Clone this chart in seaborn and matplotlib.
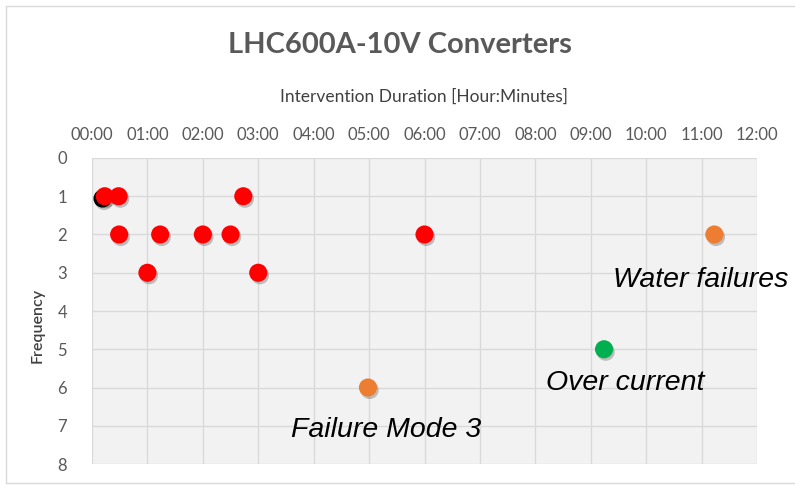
import matplotlib
matplotlib.use("Agg")
import matplotlib.pyplot as plt
import matplotlib.patheffects as pe
from matplotlib.patches import Rectangle
import seaborn as sns
import pandas as pd

# Data (hours, frequency, category)
duration_h = [0.19, 0.23, 0.48, 0.49, 1.23, 2.00, 2.50, 2.73, 1.00, 3.00, 6.00, 4.98, 9.24, 11.23]
frequency = [1.06, 1.0, 1.0, 2, 2, 2, 2, 1, 3, 3, 2, 6, 5, 2]
category = ["black", "red", "red", "red", "red", "red", "red", "red", "red", "red", "red",
            "orange", "green", "orange"]
x_ticks = list(range(0, 13))
x_tick_labels = [f"{h:02d}:00" for h in x_ticks]
y_ticks = list(range(0, 9))
annotations = [("Water failures", 9.40, 3.2), ("Over current", 8.19, 5.88), ("Failure Mode 3", 3.59, 7.12)]

palette = {"black": "#000000", "red": "#ff0000", "orange": "#ed7d31", "green": "#00b050"}

df = pd.DataFrame({"x": duration_h, "y": frequency, "cat": category})

sns.set_theme(style="white")
plt.rcParams["font.family"] = ["Lato", "DejaVu Sans"]

fig = plt.figure(figsize=(7.95, 4.86), dpi=100)
fig.patch.set_facecolor("white")
ax = fig.add_axes([92 / 795, 1 - 464 / 486, (757 - 92) / 795, (464 - 158) / 486])
ax.set_facecolor("#f2f2f2")

sns.scatterplot(data=df, x="x", y="y", hue="cat", palette=palette, ax=ax, s=170,
                linewidth=0, legend=False, zorder=3,
                path_effects=[pe.SimplePatchShadow(offset=(1.2, -1.8), shadow_rgbFace="black",
                                                   alpha=0.22), pe.Normal()])

ax.set_xlim(0, 12)
ax.set_ylim(8, 0)
ax.set_xticks(x_ticks)
ax.set_xticklabels(x_tick_labels)
ax.set_yticks(y_ticks)
ax.xaxis.tick_top()
ax.xaxis.set_label_position("top")
ax.tick_params(axis="x", colors="#595959", labelsize=12, length=0, pad=11)
ax.tick_params(axis="y", colors="#595959", labelsize=12, length=0, pad=18)
ax.grid(True, color="#d9d9d9", linewidth=1)
ax.set_axisbelow(True)
for s in ax.spines.values():
    s.set_visible(False)
ax.set_xlabel("Intervention Duration [Hour:Minutes]", fontsize=12.5, color="#404040", labelpad=18)
ax.set_ylabel("Frequency", fontsize=11.5, color="#404040", fontweight="semibold")
ax.yaxis.set_label_coords(-47 / 665, 1 - (325 - 158) / 306)

for txt, xv, yv in annotations:
    ax.text(xv, yv, txt, fontsize=20.5, style="italic", color="#000000", ha="left", va="center",
            clip_on=False, family="Liberation Sans")

fig.text(0.503, 0.907, "LHC600A-10V Converters", ha="center", va="center", fontsize=21,
         fontweight="bold", color="#595959")

fig.patches.append(Rectangle((6 / 795, 3 / 486), 1.2, 1 - 9 / 486, transform=fig.transFigure,
                             fill=False, edgecolor="#d9d9d9", linewidth=1))

fig.savefig("out.png", dpi=100)
